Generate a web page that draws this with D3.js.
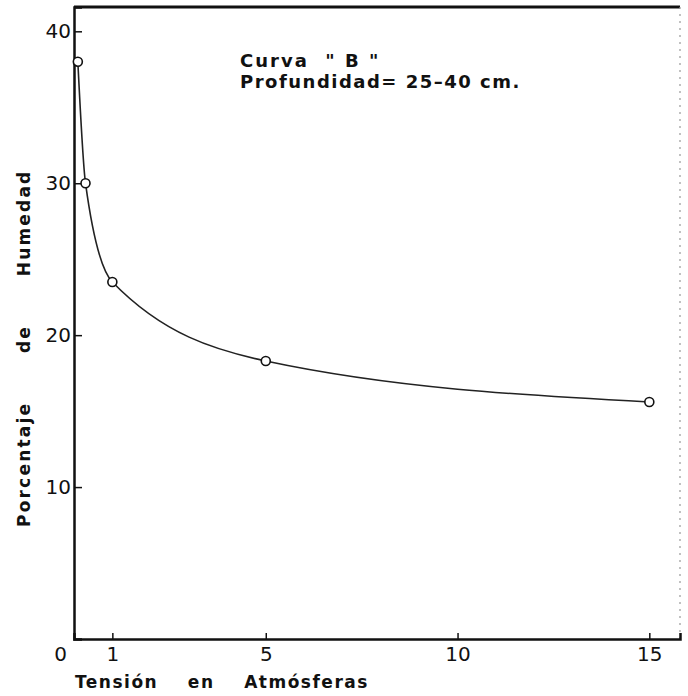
<!DOCTYPE html>
<html>
<head>
<meta charset="utf-8">
<script src="https://cdn.jsdelivr.net/npm/d3@7"></script>
<style>
  html, body { margin: 0; padding: 0; background: #fff; }
  svg { display: block; font-family: "DejaVu Sans", sans-serif; }
</style>
</head>
<body>
<svg id="chart"></svg>
<script>
// tension (atm) vs moisture (%) — curve "B", depth 25-40 cm
const tension  = [0.1, 0.3, 1, 5, 15];
const humedad  = [38.0, 30.0, 23.5, 18.3, 15.6];
const xTicks   = [0, 1, 5, 10, 15];
const yTicks   = [10, 20, 30, 40];
const titleLines = ["Curva  \" B \"", "Profundidad= 25\u201340 cm."];

const W = 688, H = 696;
const margin = { top: 7, right: 8, bottom: 57, left: 74 };
const width = W - margin.left - margin.right;
const height = H - margin.top - margin.bottom;

const svg = d3.select("#chart").attr("width", W).attr("height", H);
const g = svg.append("g").attr("transform", `translate(${margin.left},${margin.top})`);

const x = d3.scaleLinear().domain([0, 15.8]).range([0, width]);
const y = d3.scaleLinear().domain([0, 41.6]).range([height, 0]);

// frame: heavy top, faint dotted right
g.append("line").attr("x1", 0).attr("x2", width).attr("y1", 0).attr("y2", 0)
    .attr("stroke", "#111").attr("stroke-width", 3);
g.append("line").attr("x1", width).attr("x2", width).attr("y1", 0).attr("y2", height)
    .attr("stroke", "#999").attr("stroke-width", 1.2).attr("stroke-dasharray", "2,5");

// axes
const xAx = g.append("g").attr("transform", `translate(0,${height})`)
    .call(d3.axisBottom(x).tickValues(xTicks).tickSize(-6).tickPadding(8).tickFormat(d3.format("d")));
const yAx = g.append("g")
    .call(d3.axisLeft(y).tickValues(yTicks).tickSize(-8).tickPadding(3).tickFormat(d3.format("d")));
[xAx, yAx].forEach(a => {
    a.select(".domain").attr("stroke", "#111").attr("stroke-width", 2.5);
    a.selectAll("line").attr("stroke", "#111").attr("stroke-width", 1.5);
    a.selectAll("text").attr("fill", "#111").attr("font-size", 20)
        .attr("font-family", "DejaVu Sans, sans-serif");
});
// the 0 sits under the corner, a little left of the axis
xAx.selectAll(".tick").filter(d => d === 0).select("text").attr("x", -14);
xAx.selectAll(".tick").filter(d => d === 0).select("line").remove();

// curve
const line = d3.line()
    .x((d, i) => x(tension[i]))
    .y(d => y(d))
    .curve(d3.curveMonotoneX);
g.append("path").datum(humedad).attr("d", line)
    .attr("fill", "none").attr("stroke", "#222").attr("stroke-width", 1.6);

g.selectAll("circle.pt").data(humedad).enter().append("circle")
    .attr("class", "pt")
    .attr("cx", (d, i) => x(tension[i])).attr("cy", d => y(d)).attr("r", 4.5)
    .attr("fill", "#fff").attr("stroke", "#111").attr("stroke-width", 1.6);

// annotation
g.selectAll("text.title").data(titleLines).enter().append("text")
    .attr("class", "title")
    .attr("x", 166).attr("y", (d, i) => 60 + i * 21)
    .attr("font-size", 18).attr("font-weight", "bold").attr("fill", "#111")
    .attr("letter-spacing", (d, i) => i === 0 ? 2 : 1.5)
    .style("white-space", "pre")
    .text(d => d);

// axis titles
svg.append("text").attr("x", 75).attr("y", 688)
    .attr("font-size", 17).attr("font-weight", "bold").attr("fill", "#111")
    .attr("letter-spacing", 1.5).style("white-space", "pre")
    .text("Tensión    en    Atmósferas");

svg.append("text")
    .attr("transform", "translate(30,527) rotate(-90)")
    .attr("font-size", 17).attr("font-weight", "bold").attr("fill", "#111")
    .attr("letter-spacing", 2.2).style("white-space", "pre")
    .text("Porcentaje      de      Humedad");
</script>
</body>
</html>
